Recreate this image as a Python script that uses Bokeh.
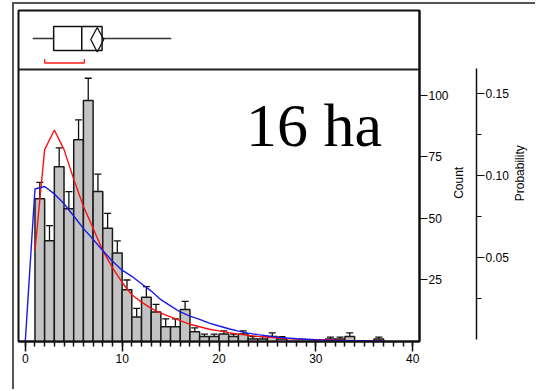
import math
from bokeh.plotting import figure
from bokeh.models import (Range1d, LinearAxis, FixedTicker, Whisker, TeeHead,
                          ColumnDataSource, Span, Label, PrintfTickFormatter)
from bokeh.embed import file_html
from bokeh.resources import INLINE

# ---------------- data ----------------
bin_left = list(range(1, 37))
counts = [58, 41, 71, 54, 82, 98, 61, 46, 36, 21, 10, 18, 12, 6, 6, 13, 4, 2,
          2, 3, 2, 3, 1, 1, 2, 1, 0, 0, 0, 0, 1, 1, 2, 0, 0, 1]
errs = [6.7, 6.1, 7.7, 6.9, 8.1, 9.0, 7.0, 6.1, 4.9, 4.0, 3.5, 4.3, 3.1, 3.2, 3.2,
        3.3, 1.5, 1.0, 1.0, 1.3, 1.0, 1.3, 1.0, 1.0, 1.5, 1.0, 0, 0, 0, 0,
        0.8, 0.8, 1.5, 0, 0, 0.8]

red_x = list(range(1, 38))
red_y = [37, 78, 86, 78, 66, 55, 46, 37, 30, 24, 19, 16, 13.5, 11.5, 10, 8.5, 7,
         6, 5, 4.3, 3.6, 3, 2.5, 2.1, 1.8, 1.5, 1.2, 1, 0.8, 0.7, 0.6, 0.5, 0.4,
         0.35, 0.3, 0.25, 0.2]
blue_x = list(range(0, 38))
blue_y = [0, 62, 63, 60, 56, 51, 46, 41.5, 37, 32.6, 29, 26.5, 23.5, 20.5, 17,
          14.5, 12, 10.3, 9, 7.5, 6.3, 5.2, 4.2, 3.4, 2.8, 2.3, 1.8, 1.4, 1.1,
          0.9, 0.7, 0.55, 0.45, 0.35, 0.3, 0.25, 0.2, 0.15]

# outlier box plot stats
whisk_lo, q1, median, q3, whisk_hi = 0.77, 2.93, 5.83, 7.93, 15.07
mean_val, mean_ci_half = 7.43, 0.67
short_lo, short_hi = 2.0, 6.1

x_ticks = [0, 10, 20, 30, 40]
count_ticks = [25, 50, 75, 100]
prob_ticks = [0.05, 0.10, 0.15]
prob_minor = [0.025, 0.075, 0.125]
label_text = "16 ha"
count_title = "Count"
prob_title = "Probability"

FONT = "Liberation Sans"

p = figure(width=523, height=387, output_backend="svg", toolbar_location=None,
           x_range=Range1d(-0.7, 40.7), y_range=Range1d(0, 134.55),
           y_axis_location="right",
           min_border_left=4, min_border_top=6, min_border_right=105,
           min_border_bottom=50)
p.margin = (2, 0, 0, 12)
p.styles = {"border-left": "2px solid #555555", "border-top": "2px solid #555555"}
p.extra_y_ranges = {"prob": Range1d(-0.00122, 0.2006), "box": Range1d(341, 10)}
p.grid.visible = False
p.outline_line_color = "#111111"
p.outline_line_width = 2
p.outline_line_alpha = 1
p.background_fill_color = "white"
p.border_fill_color = "white"

# x axis
xa = p.xaxis[0]
xa.ticker = FixedTicker(ticks=x_ticks, minor_ticks=list(range(0, 41)))
xa.major_tick_out = 10
xa.major_tick_in = 0
xa.minor_tick_out = 5
xa.minor_tick_in = 0
xa.major_tick_line_width = 1.5
xa.minor_tick_line_width = 1.5
xa.major_tick_line_color = "#111111"
xa.minor_tick_line_color = "#111111"
xa.axis_line_width = 2
xa.axis_line_color = "#111111"
xa.major_label_standoff = 2
xa.major_label_text_font = FONT
xa.major_label_text_font_size = "12px"
xa.major_label_text_color = "black"

# count axis
ya = p.yaxis[0]
ya.ticker = FixedTicker(ticks=count_ticks, minor_ticks=[])
ya.major_tick_out = 8
ya.major_tick_in = 0
ya.major_tick_line_color = "#111111"
ya.major_tick_line_width = 1.2
ya.axis_line_width = 2
ya.axis_line_color = "#111111"
ya.major_label_standoff = 1
ya.major_label_text_font = FONT
ya.major_label_text_font_size = "12px"
ya.major_label_text_color = "black"


def title_axis(text, at, standoff):
    """An axis with no line or tick, whose one label is the title,
    written bottom-to-top."""
    ax = LinearAxis(ticker=FixedTicker(ticks=[at], minor_ticks=[]),
                    major_label_overrides={at: text})
    ax.axis_line_color = None
    ax.major_tick_line_color = None
    ax.major_tick_out = 0
    ax.major_tick_in = 0
    ax.major_label_standoff = standoff
    ax.major_label_orientation = math.pi / 2
    ax.major_label_text_font = FONT
    ax.major_label_text_font_size = "12px"
    ax.major_label_text_line_height = 0.6
    ax.major_label_text_color = "black"
    return ax


p.add_layout(title_axis(count_title, 58, 8), "right")

# probability axis
pa = LinearAxis(y_range_name="prob",
                ticker=FixedTicker(ticks=prob_ticks, minor_ticks=prob_minor),
                formatter=PrintfTickFormatter(format="%.2f"),
                bounds=(0, 0.1652))
pa.major_tick_out = 8
pa.major_tick_in = 0
pa.minor_tick_out = 5
pa.minor_tick_in = 0
pa.major_tick_line_color = "#111111"
pa.minor_tick_line_color = "#111111"
pa.axis_line_color = "#111111"
pa.axis_line_width = 1.5
pa.major_label_standoff = 1
pa.major_label_text_font = FONT
pa.major_label_text_font_size = "12px"
pa.major_label_text_color = "black"
p.add_layout(pa, "right")

p.add_layout(title_axis(prob_title, 57, 9), "right")

# histogram bars
bars = ColumnDataSource(dict(
    left=bin_left, right=[b + 1 for b in bin_left], top=counts,
    bottom=[0] * len(counts)))
p.quad(left="left", right="right", top="top", bottom="bottom", source=bars,
       fill_color="#c3c3c3", line_color="#1a1a1a", line_width=1.5)

ebar = ColumnDataSource(dict(
    x=[b + 0.5 for b, e in zip(bin_left, errs) if e > 0],
    upper=[c + e for c, e in zip(counts, errs) if e > 0],
    lower=[c - e for c, e in zip(counts, errs) if e > 0]))
p.add_layout(Whisker(source=ebar, base="x", upper="upper", lower="lower",
                     line_color="#111111", line_width=1.3,
                     upper_head=TeeHead(size=7, line_color="#111111", line_width=1.3),
                     lower_head=TeeHead(size=7, line_color="#111111", line_width=1.3)))

p.line(red_x, red_y, line_color="#ff1010", line_width=1.4)
p.line(blue_x, blue_y, line_color="#1818e8", line_width=1.4)

# box plot panel (vertical positions in screen-like "box" range)
p.add_layout(Span(location=69, dimension="width", y_range_name="box",
                  line_color="#222222", line_width=2))
p.segment(x0=[whisk_lo, q3], y0=[38, 38], x1=[q1, whisk_hi], y1=[38, 38],
          y_range_name="box", line_color="#333333", line_width=1.3)
p.quad(left=[q1], right=[q3], top=[26], bottom=[50], y_range_name="box",
       fill_color=None, line_color="#111111", line_width=1.5)
p.segment(x0=[median], y0=[26], x1=[median], y1=[50], y_range_name="box",
          line_color="#111111", line_width=1.5)
p.patch(x=[mean_val - mean_ci_half, mean_val, mean_val + mean_ci_half, mean_val],
        y=[39, 27, 39, 51.5], y_range_name="box",
        fill_color=None, line_color="#111111", line_width=1.3)
p.multi_line(xs=[[short_lo, short_lo, short_hi, short_hi]], ys=[[58.5, 62.5, 62.5, 58.5]],
             y_range_name="box", line_color="#ff1a1a", line_width=1.3)

p.add_layout(Label(x=22.8, y=124, y_range_name="box", text=label_text,
                   text_font="Liberation Serif", text_font_size="62px",
                   text_color="black", text_baseline="alphabetic"))

open("out.html", "w").write(file_html(p, INLINE))
